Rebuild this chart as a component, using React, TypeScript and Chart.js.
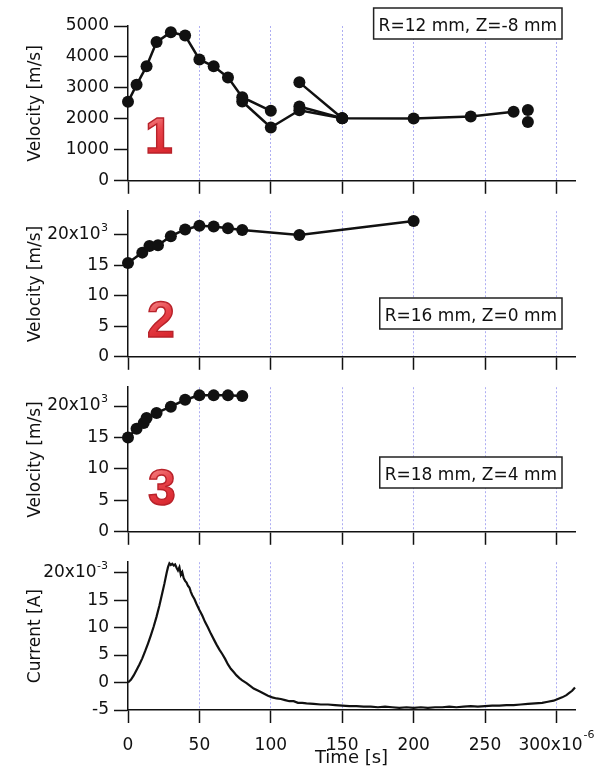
import React, { useEffect, useRef } from 'react';
import { Chart, registerables } from 'chart.js';

Chart.register(...registerables);

const FONT = '"DejaVu Sans", sans-serif';
const INK = '#111';

// ---------- shared time axis (µs, shown as x10^-6 s) ----------
const xTicks = [0, 50, 100, 150, 200, 250, 300];
const X_MAX = 313;

// ---------- panel 1 : R=12 mm, Z=-8 mm (m/s) ----------
const p1aTime = [0, 6, 13, 20, 30, 40, 50, 60, 70, 80, 100];
const p1aVel = [2550, 3100, 3700, 4480, 4800, 4690, 3920, 3700, 3340, 2700, 2260];
const p1bTime = [80, 100, 120, 150, 200, 240, 270];
const p1bVel = [2560, 1720, 2280, 2020, 2010, 2080, 2230];
const p1cTime = [120, 150];
const p1cVel = [3180, 2020];
const p1dTime = [120, 150];
const p1dVel = [2400, 2020];
const p1eTime = [280, 280];
const p1eVel = [2290, 1900];
const p1Ticks = [0, 1000, 2000, 3000, 4000, 5000];

// ---------- panel 2 : R=16 mm, Z=0 mm (10^3 m/s) ----------
const p2Time = [0, 10, 15, 21, 30, 40, 50, 60, 70, 80, 120, 200];
const p2Vel = [15.4, 17.1, 18.2, 18.3, 19.8, 20.9, 21.5, 21.4, 21.1, 20.8, 20.0, 22.3];

// ---------- panel 3 : R=18 mm, Z=4 mm (10^3 m/s) ----------
const p3Time = [0, 6, 11, 13, 20, 30, 40, 50, 60, 70, 80];
const p3Vel = [15.0, 16.4, 17.3, 18.1, 18.9, 19.9, 21.0, 21.7, 21.7, 21.7, 21.6];
const velTicks = [0, 5, 10, 15, 20];

// ---------- panel 4 : current (10^-3 A) ----------
const curTime = [
  0, 2, 4, 6, 8, 10, 12, 14, 16, 18, 20, 22, 24, 25.5, 27, 28, 29, 30, 31, 32, 33, 34, 35, 36, 37, 38, 39, 40,
  41, 42, 43, 44, 45, 46.5, 48, 50, 52, 54, 56, 58, 60, 62, 64, 66, 68, 70, 72, 74, 76, 78, 80, 83, 86, 88, 92,
  95, 98, 101, 104, 107, 110, 113, 116, 119, 122, 125, 130, 135, 140, 145, 150, 155, 160, 165, 170, 175, 180,
  185, 190, 195, 200, 205, 210, 215, 220, 225, 230, 235, 240, 245, 250, 255, 260, 265, 270, 275, 280, 285, 290,
  294, 298, 301, 304, 307, 309, 311, 313,
];
const curVal = [
  0.0, 0.5, 1.3, 2.3, 3.3, 4.4, 5.7, 7.1, 8.6, 10.2, 12.0, 14.0, 16.3, 18.0, 19.9, 21.0, 21.7, 21.4, 21.6, 21.3,
  21.5, 20.9, 20.4, 21.0, 19.6, 20.1, 19.0, 18.5, 18.2, 17.6, 17.3, 16.5, 15.9, 15.2, 14.3, 13.2, 12.2, 11.0, 10.0,
  8.9, 7.9, 6.9, 6.0, 5.2, 4.3, 3.3, 2.5, 1.9, 1.3, 0.8, 0.4, -0.1, -0.7, -1.1, -1.6, -2.0, -2.4, -2.7, -2.9,
  -3.0, -3.2, -3.4, -3.4, -3.7, -3.7, -3.8, -3.9, -4.0, -4.0, -4.1, -4.2, -4.3, -4.3, -4.4, -4.4, -4.5, -4.4,
  -4.5, -4.6, -4.5, -4.6, -4.5, -4.6, -4.5, -4.5, -4.4, -4.5, -4.4, -4.3, -4.4, -4.3, -4.2, -4.2, -4.1, -4.1,
  -4.0, -3.9, -3.8, -3.7, -3.5, -3.3, -3.0, -2.7, -2.3, -1.9, -1.5, -0.9,
];
const curTicks = [-5, 0, 5, 10, 15, 20];

const xy = (t: number[], v: number[]) => t.map((x, i) => ({ x, y: v[i] }));

const markers = (data: any[], showLine = true) => ({
  data,
  showLine,
  borderColor: INK,
  backgroundColor: INK,
  borderWidth: 2.5,
  pointRadius: 6,
  pointHoverRadius: 6,
  pointBackgroundColor: INK,
  pointBorderWidth: 0,
  clip: false,
});

type PanelSpec = {
  top: number;
  height: number;
  padTop: number;
  xHeight: number;
  yMin: number;
  yMax: number;
  yTicks: number[];
  yTitle: string;
  supTick?: number;
  supExp?: string;
  datasets: any[];
  box: { text: string; right: number; top: number };
  numeral?: { text: string; x: number; baseline: number };
  bottom?: boolean;
};

const PANELS: PanelSpec[] = [
  {
    top: 0,
    height: 196,
    padTop: 26,
    xHeight: 15,
    yMin: 0,
    yMax: 5000,
    yTicks: p1Ticks,
    yTitle: 'Velocity [m/s]',
    datasets: [
      markers(xy(p1aTime, p1aVel)),
      markers(xy(p1bTime, p1bVel)),
      markers(xy(p1cTime, p1cVel)),
      markers(xy(p1dTime, p1dVel)),
      markers(xy(p1eTime, p1eVel), false),
    ],
    box: { text: 'R=12 mm, Z=-8 mm', right: 562, top: 8 },
    numeral: { text: '1', x: 145, baseline: 153 },
  },
  {
    top: 196,
    height: 176,
    padTop: 7,
    xHeight: 15,
    yMin: 0,
    yMax: 23.9,
    yTicks: velTicks,
    yTitle: 'Velocity [m/s]',
    supTick: 20,
    supExp: '3',
    datasets: [markers(xy(p2Time, p2Vel))],
    box: { text: 'R=16 mm, Z=0 mm', right: 562, top: 298 },
    numeral: { text: '2', x: 147, baseline: 337 },
  },
  {
    top: 372,
    height: 175,
    padTop: 6,
    xHeight: 15,
    yMin: 0,
    yMax: 23.0,
    yTicks: velTicks,
    yTitle: 'Velocity [m/s]',
    supTick: 20,
    supExp: '3',
    datasets: [markers(xy(p3Time, p3Vel))],
    box: { text: 'R=18 mm, Z=4 mm', right: 562, top: 457 },
    numeral: { text: '3', x: 148, baseline: 505 },
  },
  {
    top: 547,
    height: 226,
    padTop: 6,
    xHeight: 63,
    yMin: -5,
    yMax: 21.9,
    yTicks: curTicks,
    yTitle: 'Current [A]',
    supTick: 20,
    supExp: '-3',
    datasets: [
      {
        data: xy(curTime, curVal),
        showLine: true,
        borderColor: INK,
        borderWidth: 2.2,
        pointRadius: 0,
        pointHoverRadius: 0,
        clip: false,
      },
    ],
    box: { text: '', right: 0, top: 0 },
    bottom: true,
  },
];

function annotPlugin(p: PanelSpec) {
  return {
    id: 'annot',
    afterDraw(chart: any) {
      const ctx: CanvasRenderingContext2D = chart.ctx;
      const off = p.top;
      ctx.save();

      // annotation box
      if (p.box.text) {
        ctx.font = `17px ${FONT}`;
        const w = ctx.measureText(p.box.text).width;
        const bw = w + 10;
        const bx = p.box.right - bw;
        const by = p.box.top - off;
        ctx.fillStyle = '#fff';
        ctx.fillRect(bx, by, bw, 31);
        ctx.strokeStyle = '#222';
        ctx.lineWidth = 1.5;
        ctx.strokeRect(bx, by, bw, 31);
        ctx.fillStyle = INK;
        ctx.textAlign = 'left';
        ctx.textBaseline = 'alphabetic';
        ctx.fillText(p.box.text, bx + 5, by + 23);
      }

      // big red panel numeral
      if (p.numeral) {
        const nx = p.numeral.x;
        const nb = p.numeral.baseline - off;
        ctx.font = `bold 50px "Liberation Sans", Arial, sans-serif`;
        ctx.textAlign = 'left';
        ctx.textBaseline = 'alphabetic';
        const g = ctx.createLinearGradient(nx, nb - 36, nx + 20, nb);
        g.addColorStop(0, '#f58a8a');
        g.addColorStop(0.45, '#e8434a');
        g.addColorStop(1, '#d8262e');
        ctx.fillStyle = g;
        ctx.fillText(p.numeral.text, nx, nb);
        ctx.lineWidth = 1.4;
        ctx.strokeStyle = '#b8222a';
        ctx.strokeText(p.numeral.text, nx, nb);
      }

      // y tick label with exponent
      if (p.supTick !== undefined && p.supExp) {
        const ys = chart.scales.y;
        const yy = ys.getPixelForValue(p.supTick);
        ctx.font = `11px ${FONT}`;
        const sw = ctx.measureText(p.supExp).width;
        const mainRight = 108 - sw - 0.5;
        ctx.fillStyle = INK;
        ctx.font = `17px ${FONT}`;
        ctx.textAlign = 'right';
        ctx.textBaseline = 'middle';
        ctx.fillText(`${p.supTick}x10`, mainRight, yy);
        ctx.font = `11px ${FONT}`;
        ctx.textAlign = 'left';
        ctx.textBaseline = 'alphabetic';
        ctx.fillText(p.supExp, mainRight + 0.5, yy - 4);
      }

      // x tick labels on the bottom panel
      if (p.bottom) {
        const xs = chart.scales.x;
        const base = xs.top + 40;
        ctx.fillStyle = INK;
        ctx.textBaseline = 'alphabetic';
        xTicks.forEach((v, i) => {
          const px = xs.getPixelForValue(v);
          if (i === xTicks.length - 1) {
            const main = `${v}x10`;
            const exp = '-6';
            ctx.font = `17px ${FONT}`;
            const mw = ctx.measureText(main).width;
            ctx.font = `11px ${FONT}`;
            const ew = ctx.measureText(exp).width;
            const start = px - (mw + ew + 1) / 2;
            ctx.font = `17px ${FONT}`;
            ctx.textAlign = 'left';
            ctx.fillText(main, start, base);
            ctx.font = `11px ${FONT}`;
            ctx.fillText(exp, start + mw + 1, base - 12);
          } else {
            ctx.font = `17px ${FONT}`;
            ctx.textAlign = 'center';
            ctx.fillText(String(v), px, base);
          }
        });
      }
      ctx.restore();
    },
  };
}

function buildConfig(p: PanelSpec): any {
  return {
    type: 'scatter',
    data: { datasets: p.datasets },
    options: {
      animation: false,
      responsive: false,
      maintainAspectRatio: false,
      devicePixelRatio: 1,
      events: [],
      layout: { padding: { top: p.padTop, left: 0, right: 33, bottom: 0 } },
      plugins: { legend: { display: false }, tooltip: { enabled: false } },
      scales: {
        x: {
          type: 'linear',
          min: 0,
          max: X_MAX,
          afterBuildTicks: (s: any) => {
            s.ticks = xTicks.map((v) => ({ value: v }));
          },
          afterFit: (s: any) => {
            s.height = p.xHeight;
          },
          ticks: { display: false },
          grid: {
            color: (c: any) => (c.tick && c.tick.value === 0 ? 'rgba(0,0,0,0)' : 'rgba(130,130,235,0.65)'),
            lineWidth: 1,
            drawOnChartArea: true,
            drawTicks: true,
            tickLength: 13,
            tickColor: INK,
            tickWidth: 1.5,
          },
          border: { display: true, color: INK, width: 1.5, dash: [2, 2] },
          title: p.bottom
            ? {
                display: true,
                text: 'Time [s]',
                font: { family: FONT, size: 18 },
                color: INK,
                padding: { top: 0, bottom: 4 },
              }
            : { display: false },
        },
        y: {
          type: 'linear',
          min: p.yMin,
          max: p.yMax,
          afterBuildTicks: (s: any) => {
            s.ticks = p.yTicks.map((v) => ({ value: v }));
          },
          afterFit: (s: any) => {
            s.width = 128;
          },
          ticks: {
            font: { family: FONT, size: 17 },
            color: INK,
            padding: 5,
            autoSkip: false,
            callback: (v: any) => (p.supTick !== undefined && v === p.supTick ? '' : String(v)),
          },
          grid: {
            drawOnChartArea: false,
            drawTicks: true,
            tickLength: 14,
            tickColor: INK,
            tickWidth: 1.5,
            color: INK,
          },
          border: { display: true, color: INK, width: 1.5 },
          title: {
            display: true,
            text: p.yTitle,
            font: { family: FONT, size: 17 },
            color: INK,
            padding: { top: 25, bottom: 0 },
          },
        },
      },
    },
    plugins: [annotPlugin(p)],
  };
}

function PanelChart({ panel }: { panel: PanelSpec }) {
  const ref = useRef<HTMLCanvasElement>(null);
  useEffect(() => {
    if (!ref.current) return;
    const chart = new Chart(ref.current, buildConfig(panel));
    return () => chart.destroy();
  }, [panel]);
  return (
    <canvas
      ref={ref}
      width={608}
      height={panel.height}
      style={{ position: 'absolute', left: 0, top: panel.top, width: 608, height: panel.height }}
    />
  );
}

export default function App() {
  return (
    <div
      style={{
        position: 'absolute',
        left: 0,
        top: 0,
        width: 608,
        height: 773,
        background: '#fff',
        overflow: 'hidden',
      }}
    >
      {PANELS.map((p, i) => (
        <PanelChart key={i} panel={p} />
      ))}
    </div>
  );
}
